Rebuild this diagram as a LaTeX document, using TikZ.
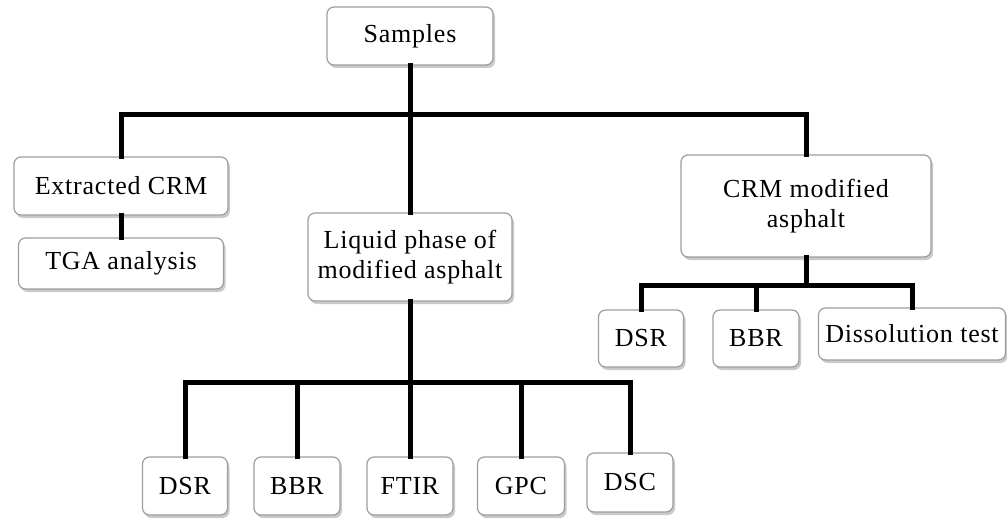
\documentclass[tikz,border=0pt]{standalone}
\usepackage{fontspec}
\setmainfont[LetterSpace=3]{Liberation Serif}
\usetikzlibrary{shadows}
\begin{document}
\begin{tikzpicture}[x=1pt,y=-1pt,
  box/.style={draw=black!38, line width=1.2pt, fill=white, rounded corners=7pt,
    align=center, inner sep=0pt, font=\fontsize{26}{30}\selectfont,
    drop shadow={opacity=0.35, shadow xshift=2pt, shadow yshift=-3pt, fill=black!60}},
  link/.style={line width=5pt, line cap=rect}]
\useasboundingbox (0,0) rectangle (1007,519);
\fill[white] (0,0) rectangle (1007,519);
% nodes
\node[box, minimum width=166pt, minimum height=58pt] (samp) at (410,36) {Samples};
\node[box, minimum width=214pt, minimum height=58pt] (ext) at (121,186) {Extracted CRM};
\node[box, minimum width=205pt, minimum height=51pt] (tga) at (121,263.5) {TGA analysis};
\node[box, minimum width=204pt, minimum height=88pt] (liq) at (410,257) {Liquid phase of\\modified asphalt};
\node[box, minimum width=250pt, minimum height=102pt] (crm) at (806,206) {CRM modified\\asphalt};
\node[box, minimum width=85pt, minimum height=57pt] (dsra) at (641,338.5) {DSR};
\node[box, minimum width=86pt, minimum height=57pt] (bbra) at (756,338.5) {BBR};
\node[box, minimum width=187pt, minimum height=52pt] (diss) at (912,334) {Dissolution test};
\node[box, minimum width=85pt, minimum height=58pt] (dsrb) at (185,486) {DSR};
\node[box, minimum width=86pt, minimum height=58pt] (bbrb) at (297,486) {BBR};
\node[box, minimum width=86pt, minimum height=58pt] (ftir) at (410,486) {FTIR};
\node[box, minimum width=87pt, minimum height=58pt] (gpc) at (521,486) {GPC};
\node[box, minimum width=86pt, minimum height=59pt] (dsc) at (630,482.5) {DSC};
% junctions
\coordinate (j1) at (410,114);
\coordinate (j2) at (410,382);
\coordinate (j3) at (806,285);
% connectors
\draw[link] (samp.south) -- (j1);
\draw[link] (ext.north) |- (j1);
\draw[link] (crm.north) |- (j1);
\draw[link] (j1) -- (liq.north);
\draw[link] (ext.south) -- (tga.north);
\draw[link] (liq.south) -- (j2);
\draw[link] (dsrb.north) |- (j2);
\draw[link] (bbrb.north) |- (j2);
\draw[link] (ftir.north) -- (j2);
\draw[link] (gpc.north) |- (j2);
\draw[link] (dsc.north) |- (j2);
\draw[link] (crm.south) -- (j3);
\draw[link] (dsra.north) |- (j3);
\draw[link] (bbra.north) |- (j3);
\draw[link] (diss.north) |- (j3);
\end{tikzpicture}
\end{document}
